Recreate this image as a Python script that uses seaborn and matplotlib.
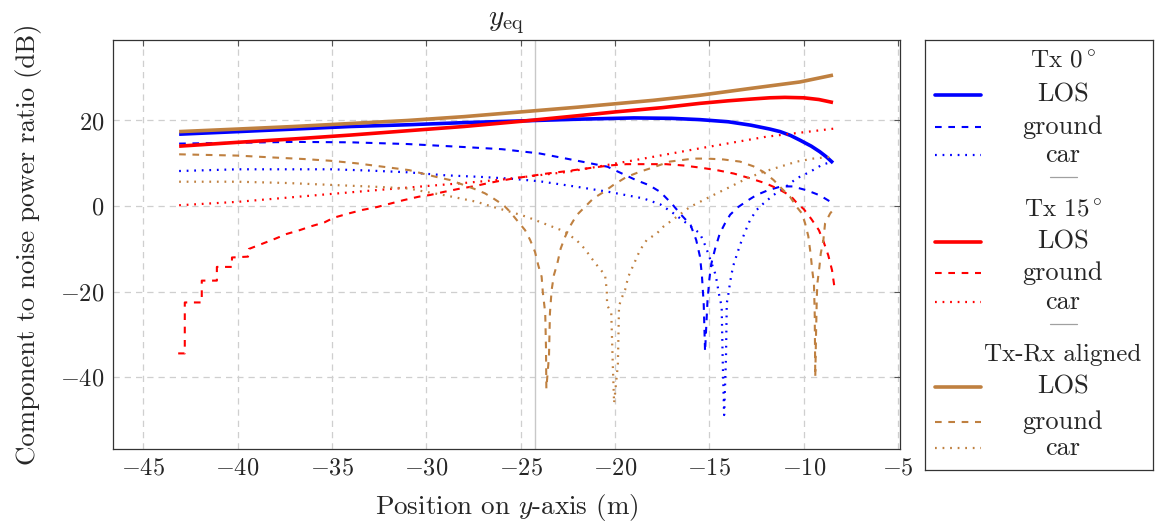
import matplotlib
matplotlib.use('Agg')
import matplotlib.pyplot as plt
import seaborn as sns
import numpy as np

# ---------------- data ----------------
# Tx 0 deg (blue)
x_b_los = [-43.1, -40, -37, -34, -31, -28, -25, -22, -19, -17, -15.5, -14, -12.8, -11.8, -11.25, -10.7, -10.2, -9.6, -9.15, -8.8, -8.45]
y_b_los = [16.8, 17.4, 18.0, 18.6, 19.0, 19.5, 19.9, 20.3, 20.6, 20.5, 20.2, 19.7, 18.9, 18.0, 17.4, 16.5, 15.4, 14.0, 12.7, 11.5, 10.1]

x_b_gnd = [-43.1, -40, -37, -34, -31, -28, -26, -24, -22, -20.4, -18.9, -18.2, -17.6, -17.0, -16.5, -16.0, -15.7, -15.5, -15.4, -15.3, -15.23,
           -15.1, -15.0, -14.9, -14.7, -14.45, -14.17, -13.9, -13.47, -12.94, -12.5, -11.9, -11.2, -10.6, -9.84, -9.14, -8.43]
y_b_gnd = [14.6, 14.8, 15.0, 14.9, 14.5, 13.8, 13.3, 12.3, 10.6, 9.2, 6.1, 4.9, 3.3, 0.6, -2.0, -4.4, -7.9, -11.8, -16.0, -23.0, -34.0,
           -22.0, -17.0, -13.5, -10.0, -6.4, -4.0, -2.0, -0.2, 1.4, 2.6, 3.7, 4.6, 4.6, 3.7, 2.5, 0.6]

x_b_car = [-43.1, -40, -37, -35, -33, -31, -29, -27, -25.5, -24, -22, -20.3, -18.5, -17.6, -16.9, -16.3, -15.5, -15.23, -15.06, -14.88,
           -14.7, -14.6, -14.5, -14.35, -14.3, -14.22, -14.12, -14.08, -13.99, -13.9, -13.82, -13.7, -13.55, -13.38, -13.11, -12.85,
           -12.5, -12.14, -11.6, -11.08, -10.37, -9.67, -9.05, -8.5]
y_b_car = [8.2, 8.6, 8.6, 8.6, 8.3, 7.9, 7.2, 6.8, 6.4, 5.8, 4.5, 3.3, 1.8, 0.4, -1.7, -3.7, -6.4, -9.1, -11.1, -13.4,
           -15.7, -17.7, -20.4, -23.5, -35.0, -48.8, -35.0, -22.7, -20.4, -17.7, -15.7, -13.4, -11.4, -9.1, -6.0, -3.3,
           -0.9, 0.6, 2.6, 4.1, 6.5, 8.0, 9.6, 10.4]

# Tx 15 deg (red)
x_r_los = [-43.1, -40, -37, -34, -31, -28, -25, -22, -20, -17.5, -15.5, -14, -12.8, -11.8, -11, -10, -9.2, -8.45]
y_r_los = [14.0, 14.9, 15.7, 16.6, 17.6, 18.6, 19.8, 21.1, 22.0, 23.0, 24.0, 24.6, 25.0, 25.3, 25.4, 25.3, 24.9, 24.2]

x_r_gnd = [-43.15, -42.8, -42.8, -41.9, -41.9, -41.1, -41.1, -40.3, -40.3, -39.45, -39.4, -38.7, -38.0, -37.4, -36.7, -36.1,
           -35.4, -34.9, -34.1, -33.4, -32.6, -31.9, -31.2, -30.4, -29.8, -29.1, -28.2, -27.4, -26.8, -26.1, -25.2, -24.5,
           -23.8, -22.7, -21.5, -20.3, -19.4, -18.2, -17.3, -16.4, -15.5, -14.6, -13.7, -12.85, -12.0, -11.3, -10.7, -10.4,
           -10.0, -9.6, -9.2, -8.95, -8.7, -8.5, -8.34]
y_r_gnd = [-34.4, -34.4, -22.5, -22.5, -17.4, -17.4, -14.2, -14.2, -12.0, -11.8, -10.0, -8.8, -7.6, -6.5, -5.6, -4.7,
           -3.8, -2.7, -1.7, -0.9, -0.2, 0.6, 1.4, 2.2, 2.6, 3.3, 4.1, 4.7, 5.3, 5.9, 6.6, 7.0,
           7.5, 8.1, 8.8, 9.5, 9.8, 9.8, 9.8, 9.5, 9.0, 8.4, 7.6, 6.5, 5.3, 3.9, 2.4, 0.9,
           -0.7, -3.0, -5.6, -8.3, -11.5, -15.0, -20.0]

x_r_car = [-43.1, -40, -36.5, -33, -30.5, -28, -26, -22.5, -19, -15.5, -12, -8.4]
y_r_car = [0.2, 1.0, 2.3, 3.6, 4.5, 5.4, 6.2, 8.0, 10.7, 13.5, 16.2, 18.1]

# Tx-Rx aligned (brown)
x_a_los = [-43.1, -40, -37, -34, -31, -28, -25, -22, -20, -18, -15.5, -12.8, -10.2, -8.45]
y_a_los = [17.4, 18.0, 18.6, 19.3, 20.0, 20.9, 22.0, 23.1, 23.9, 24.7, 25.9, 27.5, 29.0, 30.6]

x_a_gnd = [-43.1, -40, -38.3, -36.5, -35.1, -33.7, -32.3, -30.9, -30.2, -29.45, -28.75, -28.0, -27.5, -26.9, -26.45, -25.9,
           -25.57, -25.2, -24.77, -24.5, -24.24, -24.07, -23.89, -23.83, -23.7, -23.66, -23.64, -23.5, -23.45, -23.36,
           -23.24, -23.06, -22.88, -22.65, -22.4, -22.03, -21.6, -21.15, -20.6, -20.1, -19.4, -18.7, -18.15, -17.1,
           -15.85, -15.14, -14.26, -13.38, -12.67, -12.14, -11.6, -11.17, -10.73, -10.37, -10.1, -9.93, -9.76, -9.63,
           -9.55, -9.46, -9.42, -9.39, -9.35, -9.31, -9.28, -9.17, -9.1, -8.96, -8.87, -8.6, -8.43]
y_a_gnd = [12.1, 11.8, 11.4, 11.0, 10.6, 10.0, 9.2, 8.4, 7.6, 6.8, 6.1, 4.9, 4.1, 3.0, 1.8, 0.2,
           -1.3, -3.3, -5.6, -7.9, -10.7, -13.8, -16.5, -20.0, -25.0, -33.0, -42.6, -35.0, -25.0, -19.6,
           -16.1, -13.4, -9.9, -7.2, -4.8, -2.1, -0.2, 1.8, 3.3, 4.9, 6.8, 8.0, 8.8, 10.4,
           11.1, 11.1, 10.9, 10.4, 9.3, 8.0, 6.1, 4.1, 2.2, -0.2, -1.7, -4.0, -7.0, -11.4,
           -15.0, -18.1, -25.0, -39.9, -30.0, -21.6, -18.1, -14.2, -11.1, -7.9, -4.0, -1.7, -0.8]

x_a_car = [-43.1, -40, -37.4, -34.75, -32.6, -30.9, -30.0, -29.1, -28.2, -27.33, -26.45, -25.57, -24.68, -23.8, -22.92,
           -22.56, -22.03, -21.6, -21.24, -20.89, -20.53, -20.44, -20.42, -20.2, -20.12, -20.05, -19.85, -19.79, -19.7,
           -19.47, -19.3, -19.03, -18.68, -18.32, -17.79, -17.44, -16.73, -16.03, -15.32, -14.6, -13.9, -13.0, -12.14,
           -11.26, -10.37, -9.5, -8.6]
y_a_car = [5.7, 5.7, 5.4, 4.9, 4.5, 4.1, 3.3, 2.6, 1.8, 1.0, -0.2, -1.3, -2.5, -4.0, -5.5,
           -6.3, -8.0, -10.0, -12.2, -14.2, -16.1, -19.6, -23.1, -25.0, -37.0, -46.0, -37.0, -23.5, -22.0,
           -19.6, -16.5, -13.8, -10.3, -7.9, -6.4, -4.8, -2.5, -0.2, 1.4, 3.0, 4.5, 6.5, 8.0,
           9.2, 10.4, 11.1, 11.5]

x_marker_line = -24.23

x_ticks = [-45, -40, -35, -30, -25, -20, -15, -10, -5]
y_ticks = [-40, -20, 0, 20]

groups = ['Tx 0$^\\circ$', 'Tx 15$^\\circ$', 'Tx-Rx aligned']
components = ['LOS', 'ground', 'car']

# ---------------- style ----------------
sns.set_style('white')
plt.rcParams['font.family'] = ['cmr10']
plt.rcParams['mathtext.fontset'] = 'cm'
plt.rcParams['axes.formatter.use_mathtext'] = True

BLUE = '#0000ff'
RED = '#ff0000'
BROWN = '#bf8040'
colors = [BLUE, RED, BROWN]

styles = {
    'LOS': dict(lw=2.6, linestyle='-'),
    'ground': dict(lw=1.5, linestyle=(0, (3.2, 3.2))),
    'car': dict(lw=1.6, linestyle=(0, (0.8, 2.6))),
}

series = [
    (x_b_los, y_b_los, BLUE, 'LOS'), (x_b_gnd, y_b_gnd, BLUE, 'ground'), (x_b_car, y_b_car, BLUE, 'car'),
    (x_r_los, y_r_los, RED, 'LOS'), (x_r_gnd, y_r_gnd, RED, 'ground'), (x_r_car, y_r_car, RED, 'car'),
    (x_a_los, y_a_los, BROWN, 'LOS'), (x_a_gnd, y_a_gnd, BROWN, 'ground'), (x_a_car, y_a_car, BROWN, 'car'),
]

W, H = 1155, 526
fig = plt.figure(figsize=(W / 100, H / 100), dpi=100)
ax = fig.add_axes([112.7 / W, 1 - 449.3 / H, (900 - 112.7) / W, (449.3 - 40) / H])

ax.axvline(x_marker_line, color='#c8c8c8', lw=1.0, zorder=1)

for xs, ys, c, comp in series:
    sns.lineplot(x=xs, y=ys, ax=ax, color=c, estimator=None, sort=False,
                 dash_capstyle='butt', solid_capstyle='butt', zorder=3, **styles[comp])

ax.set_xlim(-46.62, -4.9)
ax.set_ylim(-56.8, 38.8)
ax.set_xticks(x_ticks)
ax.set_yticks(y_ticks)
ax.grid(True, color='#cfcfcf', linestyle=(0, (5, 4)), lw=0.9)
ax.set_axisbelow(True)
ax.tick_params(direction='in', length=4, width=0.8, top=True, right=True,
               labelsize=17.5, color='#555555', pad=6)
for s in ax.spines.values():
    s.set_linewidth(0.9)
    s.set_color('#333333')

ax.set_title(r'$y_{\mathrm{eq}}$', fontsize=21, pad=11)
ax.set_xlabel(r'Position on $y$-axis (m)', fontsize=19.5, labelpad=9)
ax.set_ylabel('Component to noise power ratio (dB)', fontsize=19.3, labelpad=13)

# ---------------- legend (drawn in its own box) ----------------
lx0, lx1, ly0, ly1 = 925, 1153, 40, 470
lax = fig.add_axes([lx0 / W, 1 - ly1 / H, (lx1 - lx0) / W, (ly1 - ly0) / H])
lax.set_xlim(lx0, lx1)
lax.set_ylim(ly1, ly0)
lax.set_xticks([])
lax.set_yticks([])
for s in lax.spines.values():
    s.set_linewidth(0.9)
    s.set_color('#333333')
lax.set_facecolor('white')

text_x = 1063
header_y = [61.7, 210, 355]
row_y = [[95, 126.7, 155], [241.7, 273.3, 301.7], [386.7, 421.7, 448.3]]
sep_y = [176.7, 324.3]
for g, c in enumerate(colors):
    lax.text(text_x, header_y[g], groups[g], ha='center', va='center', fontsize=18)
    for k, comp in enumerate(components):
        yy = row_y[g][k]
        lax.plot([935, 981], [yy, yy], color=c, **styles[comp])
        lax.text(text_x, yy, comp, ha='center', va='center', fontsize=19)
for yy in sep_y:
    lax.plot([1050, 1077], [yy, yy], color='#a0a0a0', lw=0.9)

fig.savefig('out.png', dpi=100)
